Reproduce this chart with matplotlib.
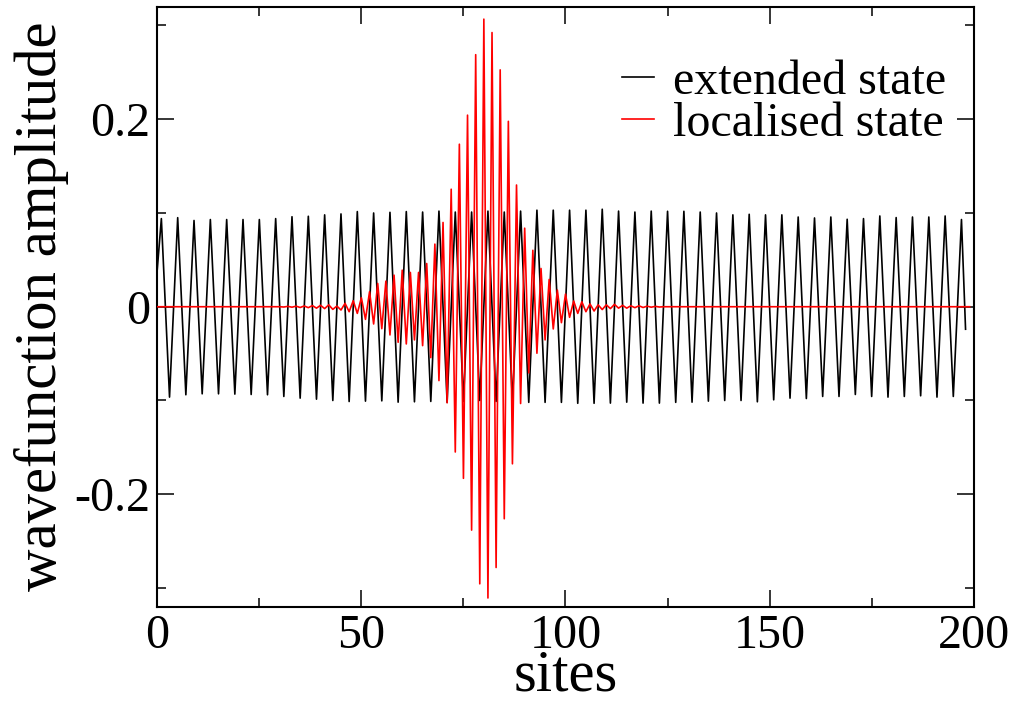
import matplotlib
matplotlib.use('Agg')
import matplotlib.pyplot as plt
from matplotlib.ticker import MultipleLocator

plt.rcParams['font.family'] = ['Liberation Serif', 'DejaVu Serif']
plt.rcParams['axes.unicode_minus'] = False

# extended state: turning points (peaks at sites 1,5,9,..., troughs at 3,7,11,...)
ext_peaks = [0.094, 0.095, 0.092, 0.093, 0.093, 0.093, 0.093, 0.094, 0.096, 0.0965,
             0.098, 0.099, 0.1015, 0.100, 0.1007, 0.1015, 0.101, 0.102, 0.101, 0.101,
             0.102, 0.101, 0.102, 0.103, 0.103, 0.103, 0.103, 0.104, 0.102, 0.101,
             0.102, 0.1018, 0.1018, 0.101, 0.100, 0.098, 0.0986, 0.098, 0.098, 0.0957,
             0.0947, 0.0957, 0.0933, 0.094, 0.0968, 0.0951, 0.0957, 0.0957, 0.0968, 0.093]
ext_troughs = [-0.0964, -0.0939, -0.0929, -0.0929, -0.0932, -0.0936, -0.0939, -0.0957, -0.0975, -0.0986,
               -0.100, -0.1011, -0.1007, -0.1004, -0.1018, -0.1014, -0.101, -0.102, -0.101, -0.100,
               -0.101, -0.102, -0.102, -0.102, -0.102, -0.103, -0.103, -0.1028, -0.1018, -0.1028,
               -0.1028, -0.102, -0.1018, -0.1007, -0.100, -0.100, -0.1014, -0.0993, -0.0975, -0.0979,
               -0.0957, -0.0957, -0.0936, -0.0957, -0.0964, -0.0957, -0.095, -0.0964, -0.0957]
ext_start = 0.04    # site 0
ext_end = -0.024    # site 198

# localised state, sites 30..124 (zero elsewhere)
loc_first_site = 30
loc_vals = [0.0, -0.0003, 0.0004, -0.0005, 0.0006, -0.0008, 0.0008, -0.001, 0.0012, -0.0015,
            0.0015, -0.002, 0.002, -0.0028, 0.0007, -0.0035, 0.0036, -0.0053, 0.0064, -0.0071,
            0.0096, -0.0135, 0.016, -0.0184, 0.0248, -0.0234, 0.0273, -0.0301, 0.0337, -0.0379,
            0.039, -0.0397, 0.0366, -0.0354, 0.0366, -0.0415, 0.0461, -0.0543, 0.0668, -0.0788,
            0.0899, -0.1024, 0.1253, -0.1549, 0.1733, -0.183, 0.2043, -0.2382, 0.2688, -0.2955,
            0.3067, -0.3106, 0.2924, -0.2781, 0.2526, -0.2261, 0.1977, -0.1675, 0.1298, -0.1032,
            0.0838, -0.0706, 0.0602, -0.0496, 0.0408, -0.0354, 0.0291, -0.0237, 0.0178, -0.017,
            0.0135, -0.0113, 0.0061, -0.0071, 0.0053, -0.0053, 0.003, -0.0046, 0.002, -0.003,
            0.002, -0.002, 0.0025, -0.0015, 0.0015, -0.0015, 0.001, -0.001, 0.001, -0.0008,
            0.0006, -0.0005, 0.0004, -0.0003, 0.0]

xticks = [0, 50, 100, 150, 200]
yticks = [-0.2, 0, 0.2]
ytick_labels = ['-0.2', '0', '0.2']

# build the series
ext_x = [0]
ext_y = [ext_start]
for i in range(len(ext_peaks)):
    ext_x.append(1 + 4 * i)
    ext_y.append(ext_peaks[i])
    if i < len(ext_troughs):
        ext_x.append(3 + 4 * i)
        ext_y.append(ext_troughs[i])
ext_x.append(198)
ext_y.append(ext_end)

loc_x = [0] + [loc_first_site + i for i in range(len(loc_vals))] + [199]
loc_y = [0.0] + loc_vals + [0.0]

fig = plt.figure(figsize=(10.18, 7.04), dpi=100)
ax = fig.add_axes([0.1545, 0.1381, 0.802, 0.8524])

ax.plot(ext_x, ext_y, color='black', lw=1.2, label='extended state', zorder=2)
ax.plot(loc_x, loc_y, color='red', lw=1.2, label='localised state', zorder=3)

ax.set_xlim(0, 200)
ax.set_ylim(-0.32, 0.32)
ax.set_xticks(xticks)
ax.set_yticks(yticks)
ax.set_yticklabels(ytick_labels)
ax.xaxis.set_minor_locator(MultipleLocator(25))
ax.yaxis.set_minor_locator(MultipleLocator(0.1))
ax.set_axisbelow(False)

ax.tick_params(which='both', direction='in', top=True, right=True, width=1.1)
ax.tick_params(which='major', length=12, labelsize=34.6)
ax.tick_params(which='minor', length=6.2)
ax.tick_params(axis='x', which='major', pad=5)
ax.tick_params(axis='y', which='major', pad=5)
for s in ax.spines.values():
    s.set_linewidth(1.5)

ax.set_xlabel('sites', fontsize=42.3, labelpad=-6)
ax.set_ylabel('wavefunction amplitude', fontsize=42.3, labelpad=4)

ax.legend(loc='upper right', frameon=False, fontsize=34.6, handlelength=0.67,
          handletextpad=0.4, labelspacing=-0.05, borderaxespad=0.3,
          bbox_to_anchor=(1.008, 0.967))

fig.savefig('out.png', dpi=100)
